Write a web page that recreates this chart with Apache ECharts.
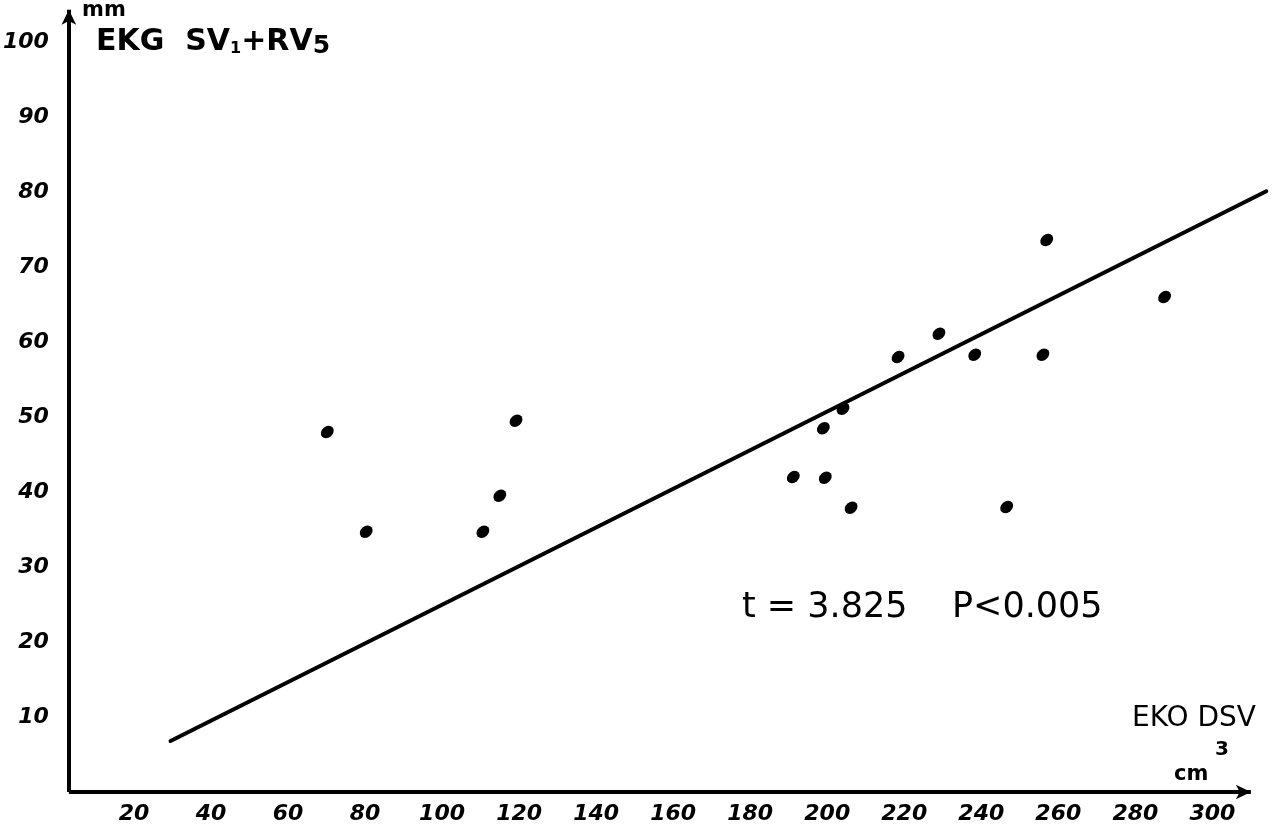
<!DOCTYPE html>
<html>
<head>
<meta charset="utf-8">
<script src="https://cdn.jsdelivr.net/npm/echarts@6/dist/echarts.min.js"></script>
<style>
html,body{margin:0;padding:0;background:#fff;}
#chart{width:1280px;height:837px;}
</style>
</head>
<body>
<div id="chart"></div>
<script>
// EKO DSV (cm3) on x, EKG SV1+RV5 (mm) on y
const dsvValues = [70.2, 80.3, 110.6, 115.0, 119.2, 191.2, 199.0, 199.5, 204.1, 206.2, 218.4, 229.0, 238.3, 246.6, 256.0, 257.0, 287.6];
const ekgValues = [48.0, 34.7, 34.7, 39.5, 49.5, 42.0, 48.5, 41.9, 51.1, 37.9, 58.0, 61.1, 58.3, 38.0, 58.3, 73.6, 66.0];
// regression line endpoints as drawn
const fitX = [29.5, 314.0];
const fitY = [6.8, 80.1];
// axes drawn from origin (hand-drawn origin) with arrows
const axisOrigin = [3.1, 0];
const xAxisEnd = 310;
const yAxisEnd = 104.3;
const xTicks = [20, 40, 60, 80, 100, 120, 140, 160, 180, 200, 220, 240, 260, 280, 300];
const yTicks = [10, 20, 30, 40, 50, 60, 70, 80, 90, 100];

const points = dsvValues.map((x, i) => [x, ekgValues[i]]);
const labelFont = {fontFamily: 'DejaVu Sans', fontStyle: 'italic', fontWeight: 'bold', fontSize: 22, color: '#000'};

const chart = echarts.init(document.getElementById('chart'), null, {renderer: 'canvas'});
chart.setOption({
  animation: false,
  backgroundColor: '#ffffff',
  grid: {left: 54, right: 6, top: 4.5, bottom: 45, containLabel: false},
  xAxis: {
    type: 'value', min: 0, max: 316, interval: 20,
    axisLine: {show: false}, axisTick: {show: false}, splitLine: {show: false},
    axisLabel: Object.assign({margin: 11, showMaxLabel: false, showMinLabel: false,
      formatter: v => xTicks.includes(v) ? String(v) : ''}, labelFont)
  },
  yAxis: {
    type: 'value', min: 0, max: 105, interval: 10,
    axisLine: {show: false}, axisTick: {show: false}, splitLine: {show: false},
    axisLabel: Object.assign({margin: 8, showMaxLabel: false, showMinLabel: false,
      formatter: v => yTicks.includes(v) ? String(v) : ''}, labelFont)
  },
  series: [
    {
      type: 'scatter',
      data: points,
      symbol: 'circle',
      symbolSize: [14, 11],
      symbolRotate: 40,
      itemStyle: {color: '#000', opacity: 1},
      silent: true,
      markLine: {
        silent: true,
        symbol: ['none', 'arrow'],
        symbolSize: [11, 15],
        label: {show: false},
        lineStyle: {color: '#000', width: 4, type: 'solid', opacity: 1},
        data: [
          [{coord: [axisOrigin[0], axisOrigin[1]]}, {coord: [xAxisEnd, axisOrigin[1]]}],
          [{coord: [axisOrigin[0], axisOrigin[1]]}, {coord: [axisOrigin[0], yAxisEnd]}]
        ]
      }
    },
    {
      type: 'line',
      data: fitX.map((x, i) => [x, fitY[i]]),
      symbol: 'none',
      lineStyle: {color: '#000', width: 4, cap: 'round'},
      silent: true
    }
  ],
  graphic: [
    {type: 'text', left: 82, top: 0, style: {text: 'mm', font: 'bold 21px "DejaVu Sans"', fill: '#000'}},
    {type: 'text', left: 96, top: 27, style: {
      text: 'EKG  SV{s|1}+RV{t|5}',
      font: 'bold 30px "DejaVu Sans"', fill: '#000',
      rich: {
        s: {font: 'bold 16px "DejaVu Sans"', fill: '#000', padding: [14, 0, 0, 0]},
        t: {font: 'bold 25px "DejaVu Sans"', fill: '#000', padding: [8, 0, 0, 0]}
      }
    }},
    {type: 'text', left: 742, top: 590, style: {text: 't = 3.825    P<0.005', font: '35px "DejaVu Sans"', fill: '#000'}},
    {type: 'text', left: 1132, top: 705, style: {text: 'EKO DSV', font: '28px "DejaVu Sans"', fill: '#000'}},
    {type: 'text', left: 1215, top: 740, style: {text: '3', font: 'bold 20px "DejaVu Sans"', fill: '#000'}},
    {type: 'text', left: 1174, top: 764, style: {text: 'cm', font: 'bold 21px "DejaVu Sans"', fill: '#000'}}
  ]
});
</script>
</body>
</html>
